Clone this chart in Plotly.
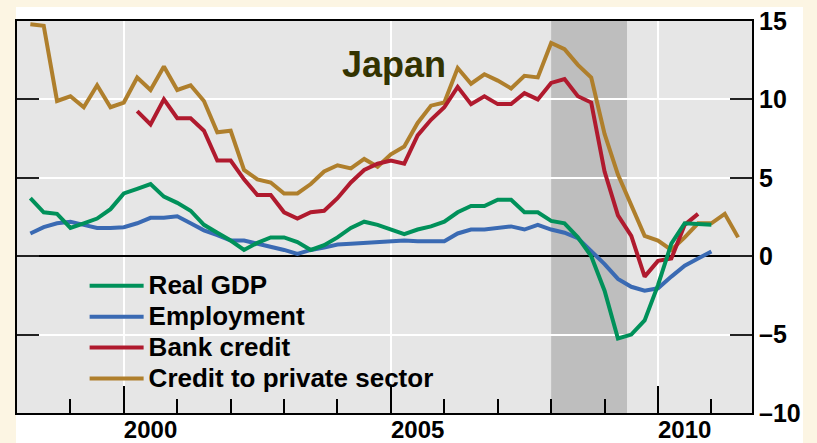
import plotly.graph_objects as go

# --- Quarterly data, % change on a year earlier ---
start_year = 1998.25  # first quarter plotted
quarters = [start_year + 0.25 * i for i in range(54)]

real_gdp = [3.7, 2.8, 2.7, 1.8, 2.1, 2.4, 3.0, 4.0, 4.3, 4.6, 3.8, 3.4, 2.9,
            2.0, 1.5, 1.0, 0.4, 0.85, 1.2, 1.2, 0.9, 0.4, 0.7, 1.2, 1.8, 2.2,
            2.0, 1.7, 1.4, 1.7, 1.9, 2.2, 2.8, 3.2, 3.2, 3.6, 3.6, 2.8, 2.8,
            2.25, 2.1, 1.2, 0.0, -2.2, -5.25, -5.0, -4.1, -1.85, 0.8, 2.1,
            2.05, 2.0]

employment = [1.45, 1.85, 2.1, 2.2, 2.0, 1.8, 1.8, 1.85, 2.1, 2.45, 2.45, 2.55,
              2.1, 1.65, 1.35, 1.0, 1.0, 0.8, 0.65, 0.4, 0.15, 0.4, 0.55, 0.75,
              0.8, 0.85, 0.9, 0.95, 1.0, 0.95, 0.92, 0.95, 1.45, 1.7, 1.7, 1.8,
              1.9, 1.7, 2.0, 1.7, 1.5, 1.15, 0.35, -0.5, -1.45, -1.95, -2.2,
              -2.05, -1.3, -0.6, -0.15, 0.3]

bank_credit_start = 8  # bank credit series begins in 2000
bank_credit = [9.25, 8.4, 10.0, 8.8, 8.8, 8.0, 6.1, 6.1, 4.9, 3.9, 3.9, 2.8,
               2.4, 2.8, 2.9, 3.7, 4.7, 5.5, 5.9, 6.1, 5.9, 7.7, 8.7, 9.5,
               10.8, 9.7, 10.2, 9.7, 9.7, 10.4, 10.0, 11.05, 11.3, 10.2, 9.8,
               5.4, 2.6, 1.3, -1.3, -0.3, -0.15, 2.0, 2.7]

private_credit = [14.8, 14.7, 9.9, 10.2, 9.5, 10.9, 9.5, 9.8, 11.4, 10.6, 12.1,
                  10.6, 10.9, 9.9, 7.9, 8.0, 5.5, 4.9, 4.7, 4.0, 4.0, 4.6, 5.4,
                  5.8, 5.6, 6.2, 5.7, 6.5, 7.0, 8.5, 9.6, 9.8, 12.0, 11.0, 11.6,
                  11.2, 10.7, 11.5, 11.4, 13.6, 13.2, 12.2, 11.4, 7.8, 5.2, 3.2,
                  1.3, 1.0, 0.4, 1.2, 2.1, 2.1, 2.7, 1.2]

recession_start = 2008.0
recession_end = 2009.42

y_ticks = [-10, -5, 0, 5, 10, 15]
y_labels = ['\u201310', '\u20135', '0', '5', '10', '15']
year_labels = ['2000', '2005', '2010']
year_label_pos = [2000.5, 2005.5, 2010.5]
major_years = [2000, 2005, 2010]
minor_years = [1999, 2001, 2002, 2003, 2004, 2006, 2007, 2008, 2009, 2011]

FONT = "Liberation Sans"
CREAM = "#FCF5E3"
X_RANGE = [1998.0, 2011.76]

fig = go.Figure()

series = [
    ("Credit to private sector", quarters, private_credit, "#AF7F2C"),
    ("Bank credit", quarters[bank_credit_start:bank_credit_start + len(bank_credit)],
     bank_credit, "#B01A2E"),
    ("Employment", quarters[:len(employment)], employment, "#3A6AB3"),
    ("Real GDP", quarters[:len(real_gdp)], real_gdp, "#00915A"),
]
for name, xs, ys, color in series:
    # bigger text inside the legend while keeping the row pitch tight
    fig.add_trace(go.Scatter(x=xs, y=ys, mode='lines',
                             name='<span style="font-size:26px">%s</span>' % name,
                             line=dict(color=color, width=4)))

# empty trace so the label axis (x2) gets drawn
fig.add_trace(go.Scatter(x=[], y=[], xaxis='x2', yaxis='y', showlegend=False,
                         hoverinfo='skip'))

# white card behind the chart, grey plot area and recession band
fig.add_shape(type='rect', xref='paper', yref='paper',
              x0=-0.0014, x1=1.0694, y0=-0.08, y1=1.0357,
              fillcolor='white', line_width=0, layer='below')
fig.add_shape(type='rect', xref='x domain', yref='y domain',
              x0=0, x1=1, y0=0, y1=1,
              fillcolor='#E6E6E6', line_width=0, layer='below')
fig.add_shape(type='rect', xref='x', yref='y domain',
              x0=recession_start, x1=recession_end, y0=0, y1=1,
              fillcolor='#BEBEBE', line_width=0, layer='below')

fig.add_annotation(text="Japan", xref='paper', yref='paper', x=0.513, y=0.888,
                   xanchor='center', yanchor='middle', showarrow=False,
                   font=dict(family=FONT, size=36, color='#333300', weight='bold'))

fig.update_layout(
    width=817, height=443,
    margin=dict(l=17, r=65, t=21, b=30, autoexpand=False),
    paper_bgcolor=CREAM,
    plot_bgcolor='#E6E6E6',
    showlegend=True,
    legend=dict(x=0.092, y=0.377, xanchor='left', yanchor='top',
                traceorder='reversed', bgcolor='rgba(0,0,0,0)',
                tracegroupgap=0, itemwidth=54,
                font=dict(family=FONT, size=21.5, color='black', weight='bold')),
    xaxis=dict(range=X_RANGE, tickvals=major_years, automargin=False,
               showticklabels=False, ticks='inside', ticklen=27, tickwidth=2,
               tickcolor='black', showgrid=True, gridcolor='white', gridwidth=2,
               showline=True, linecolor='black', linewidth=2, mirror=True,
               zeroline=False,
               minor=dict(tickvals=minor_years, ticks='inside', ticklen=14,
                          tickwidth=2, tickcolor='black', showgrid=False)),
    xaxis2=dict(range=X_RANGE, overlaying='x', anchor='y', side='bottom',
                automargin=False,
                tickvals=year_label_pos, ticktext=year_labels, showgrid=False,
                ticks='', showline=False, zeroline=False,
                tickfont=dict(family=FONT, size=24, color='black', weight='bold')),
    yaxis=dict(range=[-10, 15], tickvals=y_ticks, ticktext=y_labels, side='right',
               automargin=False,
               ticks='inside', ticklen=22, tickwidth=1.5, tickcolor='#222222',
               showgrid=True, gridcolor='white', gridwidth=2,
               zeroline=True, zerolinecolor='black', zerolinewidth=1.5,
               showline=True, linecolor='black', linewidth=2, mirror='ticks',
               tickfont=dict(family=FONT, size=25, color='black', weight='bold')),
)

# drop the browser's default body margin so the 817x443 figure fills the window
fig.write_html("out.html", config={'displayModeBar': False},
               post_script="document.body.style.margin='0';")
